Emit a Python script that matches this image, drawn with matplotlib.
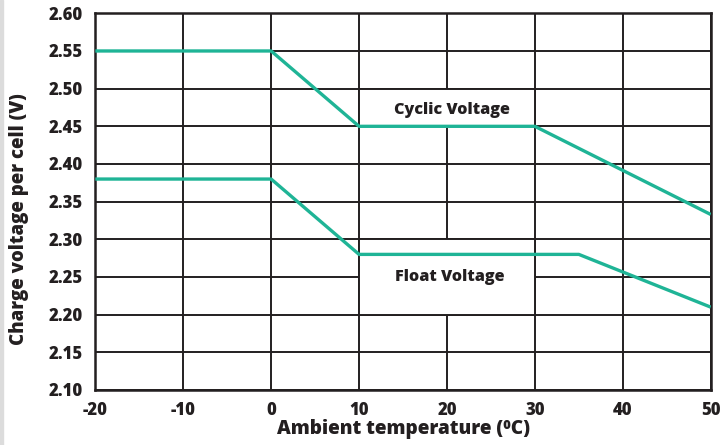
import matplotlib as mpl
mpl.use('Agg')
import matplotlib.pyplot as plt
from matplotlib.patches import Rectangle

plt.rcParams['font.family'] = ['Open Sans', 'DejaVu Sans']
plt.rcParams['font.weight'] = 'bold'
plt.rcParams['axes.unicode_minus'] = False

# data
temps_cyclic = [-20, 0, 10, 30, 50]
cyclic_v = [2.55, 2.55, 2.45, 2.45, 2.333]
temps_float = [-20, 0, 10, 35, 50]
float_v = [2.38, 2.38, 2.28, 2.28, 2.21]

x_ticks = [-20, -10, 0, 10, 20, 30, 40, 50]
y_ticks = [2.10, 2.15, 2.20, 2.25, 2.30, 2.35, 2.40, 2.45, 2.50, 2.55, 2.60]

ink = '#231f20'
teal = '#1fb496'
wt = 800

fig = plt.figure(figsize=(7.21, 4.45), dpi=100)
ax = fig.add_axes([0.1322, 0.1236, 0.8535, 0.8465])

# thin grey strip on the far left like the screenshot
fig.patches.append(Rectangle((0, 0), 0.004, 1, transform=fig.transFigure,
                             color='#dcdcdc', zorder=0))

ax.set_xlim(-20, 50)
ax.set_ylim(2.10, 2.60)
ax.set_xticks(x_ticks)
ax.set_yticks(y_ticks)
ax.set_yticklabels(['%.2f' % v for v in y_ticks])
ax.grid(True, color=ink, linewidth=1.4)
ax.set_axisbelow(True)
ax.tick_params(length=0, labelsize=12, labelcolor=ink, pad=9)
for lab in ax.get_xticklabels() + ax.get_yticklabels():
    lab.set_fontweight(wt)
for s in ax.spines.values():
    s.set_color(ink)
    s.set_linewidth(1.8)

# white boxes behind the labels
ax.add_patch(Rectangle((10, 2.45), 20, 0.05, facecolor='white',
                       edgecolor=ink, linewidth=1.4, zorder=1))
ax.add_patch(Rectangle((10, 2.20), 20, 0.10, facecolor='white',
                       edgecolor=ink, linewidth=1.4, zorder=1))

ax.plot(temps_cyclic, cyclic_v, color=teal, linewidth=2.4, zorder=3,
        solid_capstyle='butt')
ax.plot(temps_float, float_v, color=teal, linewidth=2.4, zorder=3,
        solid_capstyle='butt')

ax.text(20.6, 2.471, 'Cyclic Voltage', ha='center', va='center',
        fontsize=11.6, fontweight=wt, color=ink, zorder=4)
ax.text(20.3, 2.250, 'Float Voltage', ha='center', va='center',
        fontsize=11.6, fontweight=wt, color=ink, zorder=4)

ax.set_xlabel('Ambient temperature (\u2070C)', fontsize=13.7, fontweight=wt,
              color=ink, labelpad=0)
ax.set_ylabel('Charge voltage per cell (V)', fontsize=13.4, fontweight=wt,
              color=ink)
ax.yaxis.set_label_coords(-0.108, 0.454)

fig.savefig('out.png', dpi=100)
